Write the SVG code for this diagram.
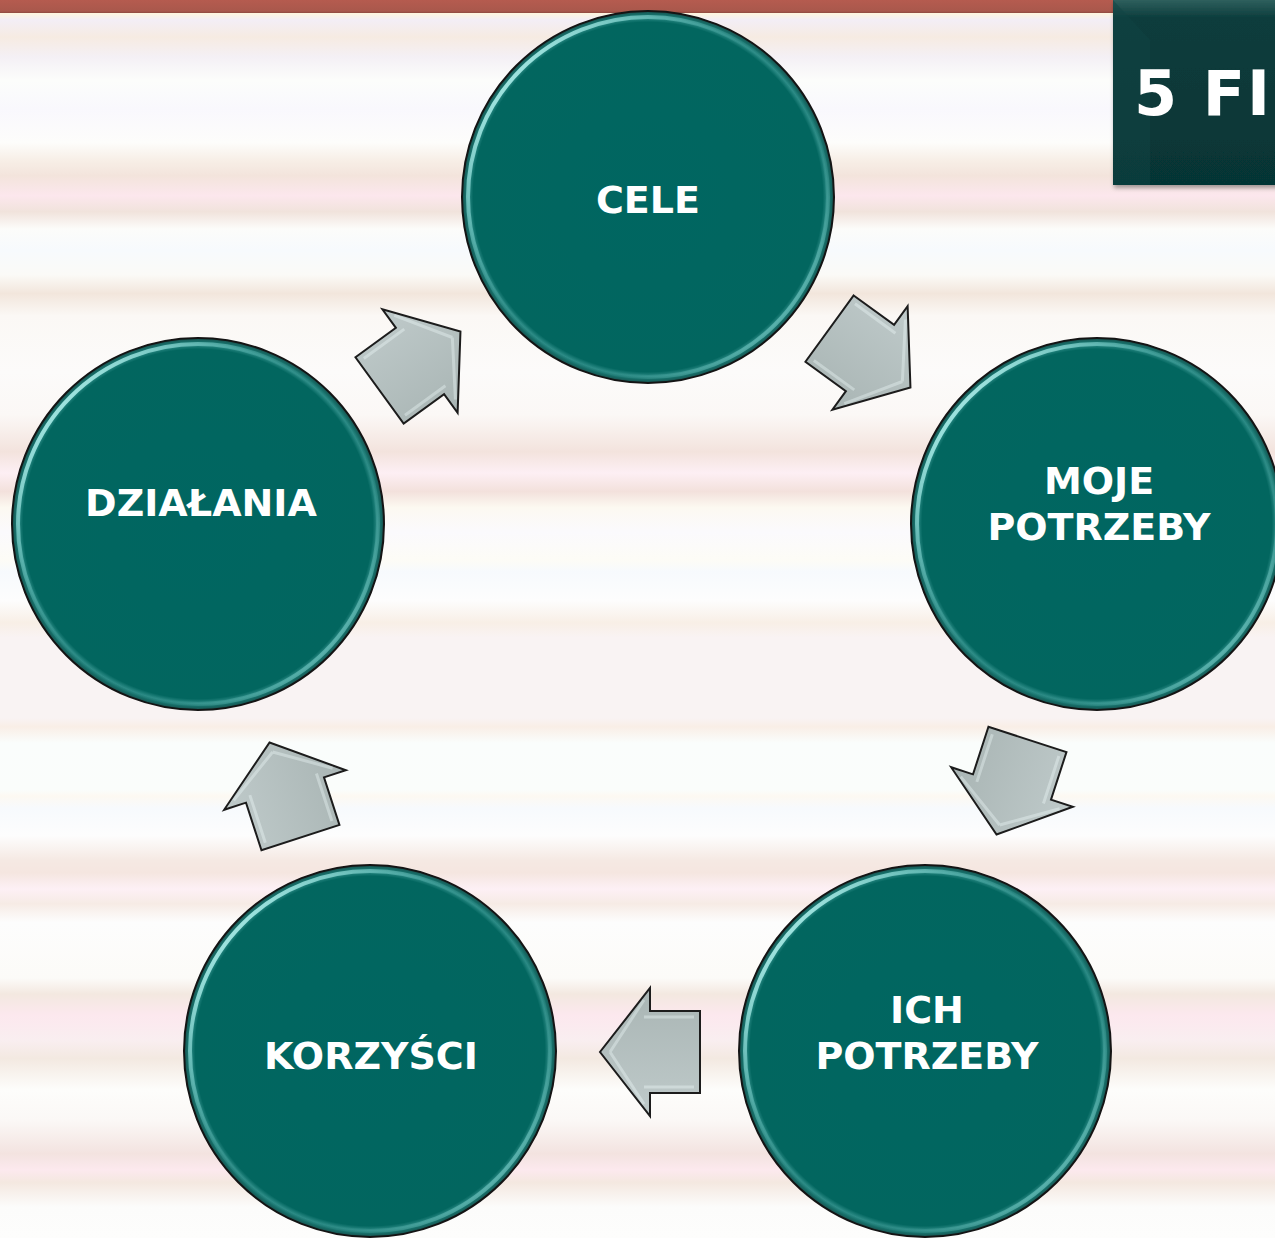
<svg xmlns="http://www.w3.org/2000/svg" width="1275" height="1238" viewBox="0 0 1275 1238">
<defs>
<linearGradient id="bg" gradientUnits="userSpaceOnUse" x1="0" y1="0" x2="0" y2="1238">
<stop offset="0.011" stop-color="#fdf5e0"/>
<stop offset="0.016" stop-color="#f3eef6"/>
<stop offset="0.030" stop-color="#f6ebe2"/>
<stop offset="0.046" stop-color="#f4f0f5"/>
<stop offset="0.065" stop-color="#fcfdfb"/>
<stop offset="0.088" stop-color="#f9f8fd"/>
<stop offset="0.115" stop-color="#fdfdfb"/>
<stop offset="0.130" stop-color="#f7eee6"/>
<stop offset="0.142" stop-color="#f3e4dc"/>
<stop offset="0.158" stop-color="#fce7ed"/>
<stop offset="0.171" stop-color="#f1e3dc"/>
<stop offset="0.185" stop-color="#fcfcfa"/>
<stop offset="0.202" stop-color="#f7fafd"/>
<stop offset="0.222" stop-color="#fbfaf7"/>
<stop offset="0.237" stop-color="#f2e6dc"/>
<stop offset="0.255" stop-color="#fbf8f5"/>
<stop offset="0.300" stop-color="#fcfbfa"/>
<stop offset="0.335" stop-color="#fbf8f6"/>
<stop offset="0.365" stop-color="#f3e3dd"/>
<stop offset="0.382" stop-color="#fdeff4"/>
<stop offset="0.397" stop-color="#f3e1dc"/>
<stop offset="0.410" stop-color="#fcf9f1"/>
<stop offset="0.430" stop-color="#fbfafd"/>
<stop offset="0.452" stop-color="#fdfcf6"/>
<stop offset="0.462" stop-color="#f7fafd"/>
<stop offset="0.485" stop-color="#fdfdfd"/>
<stop offset="0.503" stop-color="#f8efe6"/>
<stop offset="0.515" stop-color="#f9f3f3"/>
<stop offset="0.580" stop-color="#f9f3f3"/>
<stop offset="0.587" stop-color="#f9eee6"/>
<stop offset="0.600" stop-color="#fafdfc"/>
<stop offset="0.638" stop-color="#fafdfb"/>
<stop offset="0.643" stop-color="#fdf9f2"/>
<stop offset="0.653" stop-color="#f7fafd"/>
<stop offset="0.675" stop-color="#fdfdfd"/>
<stop offset="0.695" stop-color="#f5e9e3"/>
<stop offset="0.705" stop-color="#f5e6e0"/>
<stop offset="0.718" stop-color="#fdf0f5"/>
<stop offset="0.730" stop-color="#f6ebe5"/>
<stop offset="0.745" stop-color="#fdfdfd"/>
<stop offset="0.790" stop-color="#fcfbf8"/>
<stop offset="0.803" stop-color="#f3e8e0"/>
<stop offset="0.820" stop-color="#fce8ee"/>
<stop offset="0.840" stop-color="#f9eef0"/>
<stop offset="0.855" stop-color="#f3e9e1"/>
<stop offset="0.880" stop-color="#fdfdfb"/>
<stop offset="0.905" stop-color="#fbf8f6"/>
<stop offset="0.932" stop-color="#f3e3e0"/>
<stop offset="0.945" stop-color="#fce9ee"/>
<stop offset="0.955" stop-color="#f4e8e0"/>
<stop offset="0.975" stop-color="#fcfcfb"/>
<stop offset="1" stop-color="#fdfdfc"/>
</linearGradient>
<linearGradient id="bar" x1="0" y1="0" x2="0" y2="1">
<stop offset="0" stop-color="#b55b4f"/>
<stop offset="0.85" stop-color="#a9584c"/>
<stop offset="1" stop-color="#8e4a40"/>
</linearGradient>
<radialGradient id="disc" cx="0.5" cy="0.5" r="0.5">
<stop offset="0" stop-color="#006661"/>
<stop offset="0.94" stop-color="#02665f"/>
<stop offset="0.965" stop-color="#2d8c87"/>
<stop offset="0.98" stop-color="#17716b"/>
<stop offset="1" stop-color="#174d4a"/>
</radialGradient>
<linearGradient id="rim" x1="0.1" y1="0.15" x2="0.9" y2="0.85">
<stop offset="0" stop-color="#b8f6f2" stop-opacity="0.9"/>
<stop offset="0.3" stop-color="#7fd6d1" stop-opacity="0.3"/>
<stop offset="0.6" stop-color="#04665f" stop-opacity="0"/>
<stop offset="1" stop-color="#8fe0db" stop-opacity="0.55"/>
</linearGradient>
<linearGradient id="arr" x1="0" y1="0" x2="0" y2="1">
<stop offset="0" stop-color="#bfcaca"/>
<stop offset="1" stop-color="#a9b5b4"/>
</linearGradient>
<linearGradient id="box" x1="0" y1="0" x2="0" y2="1">
<stop offset="0" stop-color="#2f5f5d"/>
<stop offset="0.1" stop-color="#0b3c3c"/>
<stop offset="1" stop-color="#063535"/>
</linearGradient>
<filter id="sh" x="-10%" y="-10%" width="120%" height="120%">
<feGaussianBlur in="SourceAlpha" stdDeviation="2"/>
<feOffset dx="1" dy="3" result="b"/>
<feFlood flood-color="#000" flood-opacity="0.35"/>
<feComposite in2="b" operator="in"/>
<feMerge><feMergeNode/><feMergeNode in="SourceGraphic"/></feMerge>
</filter>
<path id="arrowShape" d="M -50,-41 L 0,-41 L 0,-64 L 50,0 L 0,64 L 0,41 L -50,41 Z"/>
<path id="arrowBevel" d="M -44,-35 L 6,-35 M 6,-52 L 40,0 M 6,52 L 40,0 M -44,35 L 6,35"/>
</defs>
<style>
.circle { fill: url(#disc); stroke: #141414; stroke-width: 2; }
.rim { fill: none; stroke: url(#rim); stroke-width: 4; }
.lbl { font-family: "DejaVu Sans", Verdana, sans-serif; font-weight: bold; font-size: 38px; fill: #ffffff; text-anchor: middle; }
.arrow { fill: url(#arr); stroke: #1c1c1c; stroke-width: 2; stroke-linejoin: miter; }
.bevel { fill: none; stroke: #f4ffff; stroke-opacity: 0.35; stroke-width: 3; }
</style>

<rect x="0" y="0" width="1275" height="1238" fill="url(#bg)"/>
<rect x="0" y="0" width="1275" height="13" fill="url(#bar)"/>

<g id="title-box">
<rect x="1113" y="0" width="170" height="185" fill="url(#box)" filter="url(#sh)"/>
<path d="M1113,0 L1150,40 L1150,185 L1113,185 Z" fill="#0f4444" opacity="0.5"/>
<text x="1134" y="115" font-family="DejaVu Sans, Verdana, sans-serif" font-weight="bold" font-size="62" letter-spacing="2" fill="#ffffff">5 FI</text>
</g>

<g id="connectors">
<g transform="translate(870,358) rotate(36)">
<use href="#arrowShape" class="arrow"/>
<use href="#arrowBevel" class="bevel"/>
</g>
<g transform="translate(1012,787) rotate(108)">
<use href="#arrowShape" class="arrow"/>
<use href="#arrowBevel" class="bevel"/>
</g>
<g transform="translate(650,1052) rotate(180)">
<use href="#arrowShape" class="arrow"/>
<use href="#arrowBevel" class="bevel"/>
</g>
<g transform="translate(285,790) rotate(252)">
<use href="#arrowShape" class="arrow"/>
<use href="#arrowBevel" class="bevel"/>
</g>
<g transform="translate(420,361) rotate(-36)">
<use href="#arrowShape" class="arrow"/>
<use href="#arrowBevel" class="bevel"/>
</g>
</g>

<g id="node-cele">
<circle cx="648" cy="197" r="186" class="circle"/>
<circle cx="648" cy="197" r="180" class="rim"/>
<text x="648" y="213" class="lbl">CELE</text>
</g>

<g id="node-moje-potrzeby">
<circle cx="1097" cy="524" r="186" class="circle"/>
<circle cx="1097" cy="524" r="180" class="rim"/>
<text x="1099" y="494" class="lbl">MOJE</text>
<text x="1099" y="540" class="lbl">POTRZEBY</text>
</g>

<g id="node-ich-potrzeby">
<circle cx="925" cy="1051" r="186" class="circle"/>
<circle cx="925" cy="1051" r="180" class="rim"/>
<text x="927" y="1023" class="lbl">ICH</text>
<text x="927" y="1069" class="lbl">POTRZEBY</text>
</g>

<g id="node-korzysci">
<circle cx="370" cy="1051" r="186" class="circle"/>
<circle cx="370" cy="1051" r="180" class="rim"/>
<text x="371" y="1069" class="lbl">KORZYŚCI</text>
</g>

<g id="node-dzialania">
<circle cx="198" cy="524" r="186" class="circle"/>
<circle cx="198" cy="524" r="180" class="rim"/>
<text x="201" y="516" class="lbl">DZIAŁANIA</text>
</g>
</svg>
